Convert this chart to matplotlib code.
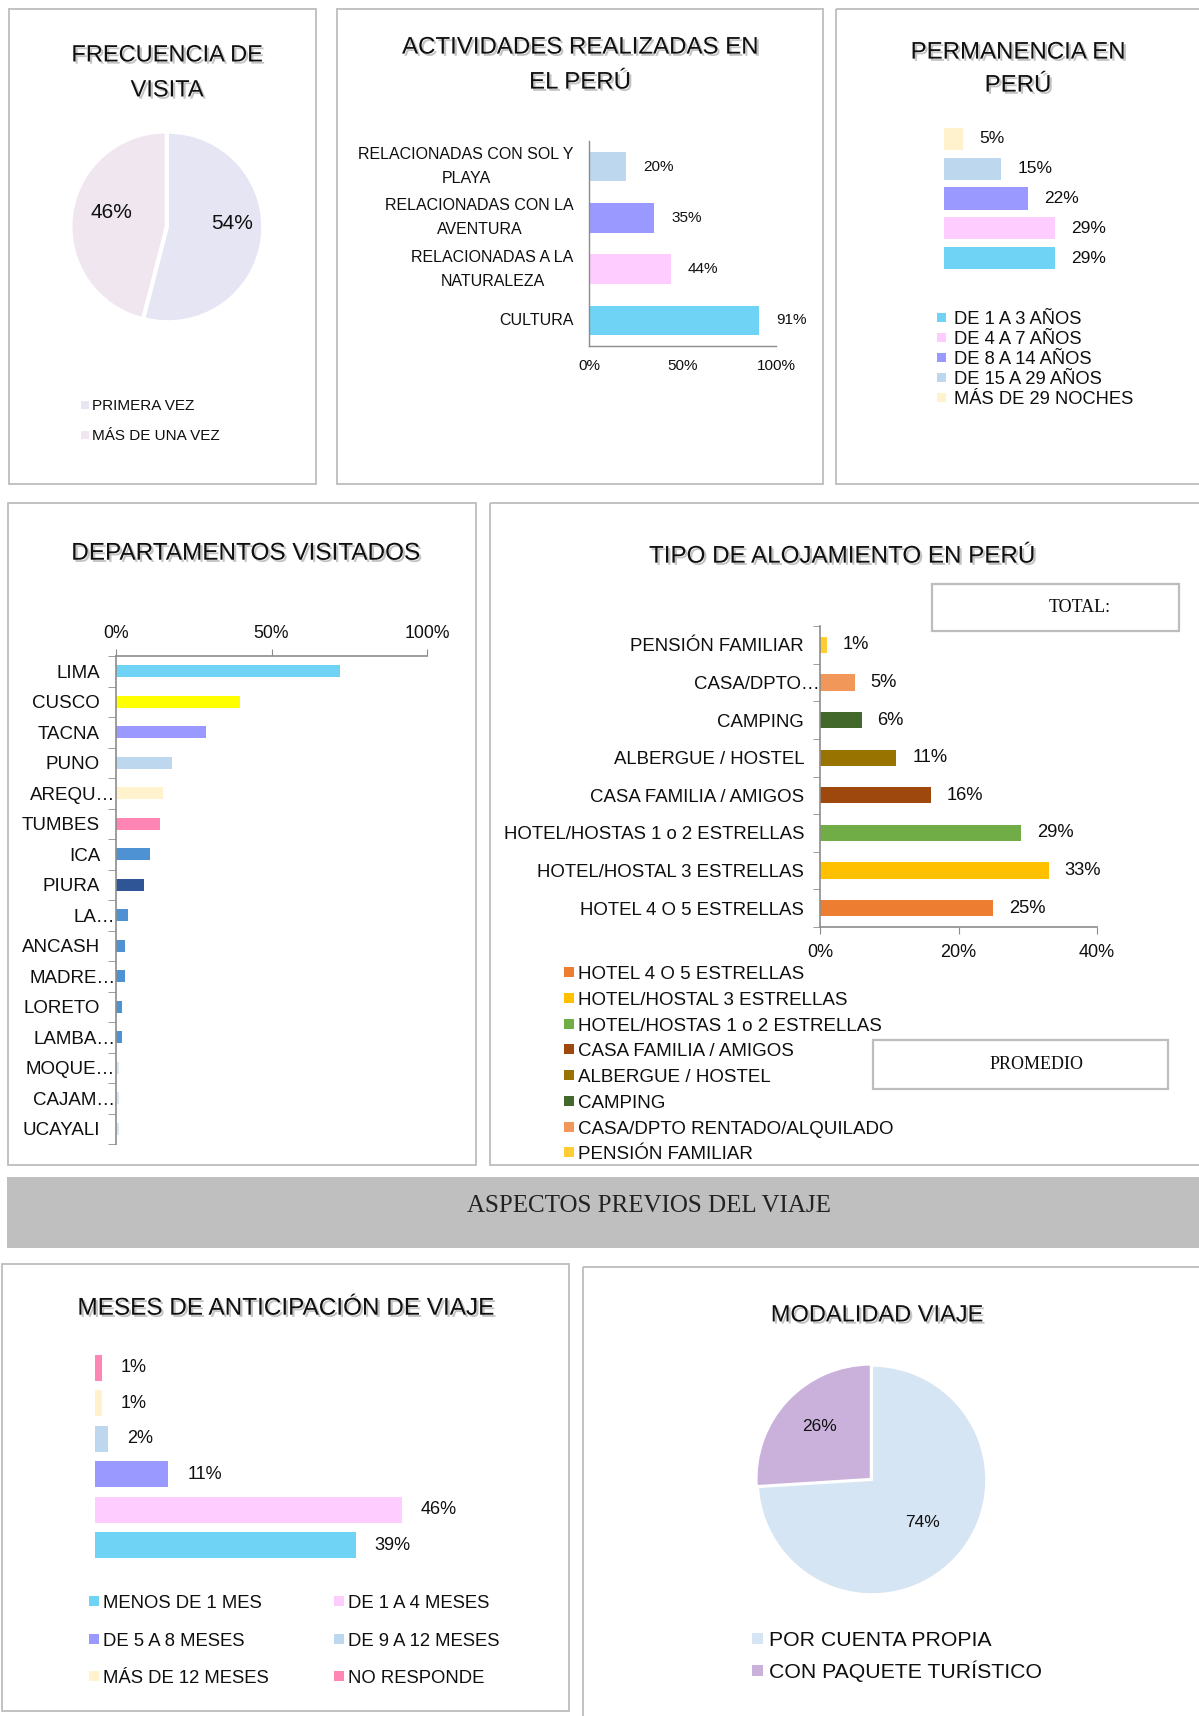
import matplotlib
matplotlib.use('Agg')
import matplotlib.pyplot as plt
import matplotlib.patheffects as pe
from matplotlib.patches import Rectangle
import numpy as np

plt.rcParams['font.family'] = ['Liberation Sans', 'DejaVu Sans']

# ---------------- data ----------------
freq_labels = ['PRIMERA VEZ', 'MÁS DE UNA VEZ']
freq_values = [54, 46]
freq_colors = ['#E5E5F4', '#EFE6EF']

act_labels = ['RELACIONADAS CON SOL Y\nPLAYA', 'RELACIONADAS CON LA\nAVENTURA',
              'RELACIONADAS A LA\nNATURALEZA', 'CULTURA']
act_values = [20, 35, 44, 91]
act_colors = ['#BDD7EE', '#9999FF', '#FFCCFF', '#6FD3F5']
act_ticks = [0, 50, 100]

perm_labels = ['DE 1 A 3 AÑOS', 'DE 4 A 7 AÑOS', 'DE 8 A 14 AÑOS',
               'DE 15 A 29 AÑOS', 'MÁS DE 29 NOCHES']
perm_values = [29, 29, 22, 15, 5]
perm_colors = ['#6FD3F5', '#FFCCFF', '#9999FF', '#BDD7EE', '#FFF2CC']

dept_labels = ['LIMA', 'CUSCO', 'TACNA', 'PUNO', 'AREQU…', 'TUMBES', 'ICA', 'PIURA',
               'LA…', 'ANCASH', 'MADRE…', 'LORETO', 'LAMBA…', 'MOQUE…', 'CAJAM…', 'UCAYALI']
dept_values = [72, 40, 29, 18, 15, 14, 11, 9, 4, 3, 3, 2, 2, 1, 1, 1]
dept_colors = ['#6FD3F5', '#FFFF00', '#9999FF', '#BDD7EE', '#FFF2CC', '#FF85B4',
               '#4F92D3', '#2F5597', '#4F92D3', '#4F92D3', '#4F92D3', '#4F92D3',
               '#4F92D3', '#DAE7F5', '#DAE7F5', '#DAE7F5']
dept_ticks = [0, 50, 100]

alo_labels = ['HOTEL 4 O 5 ESTRELLAS', 'HOTEL/HOSTAL 3 ESTRELLAS', 'HOTEL/HOSTAS 1 o 2 ESTRELLAS',
              'CASA FAMILIA / AMIGOS', 'ALBERGUE / HOSTEL', 'CAMPING',
              'CASA/DPTO RENTADO/ALQUILADO', 'PENSIÓN FAMILIAR']
alo_ticklabels = ['HOTEL 4 O 5 ESTRELLAS', 'HOTEL/HOSTAL 3 ESTRELLAS', 'HOTEL/HOSTAS 1 o 2 ESTRELLAS',
                  'CASA FAMILIA / AMIGOS', 'ALBERGUE / HOSTEL', 'CAMPING',
                  'CASA/DPTO…', 'PENSIÓN FAMILIAR']
alo_values = [25, 33, 29, 16, 11, 6, 5, 1]
alo_colors = ['#ED7D31', '#FFC000', '#70AD47', '#9E480E', '#997300', '#43682B', '#F1975A', '#FFCD33']
alo_ticks = [0, 20, 40]

mes_labels = ['MENOS DE 1 MES', 'DE 1 A 4 MESES', 'DE 5 A 8 MESES',
              'DE 9 A 12 MESES', 'MÁS DE 12 MESES', 'NO RESPONDE']
mes_values = [39, 46, 11, 2, 1, 1]
mes_colors = ['#6FD3F5', '#FFCCFF', '#9999FF', '#BDD7EE', '#FFF2CC', '#FF85B4']

mod_labels = ['POR CUENTA PROPIA', 'CON PAQUETE TURÍSTICO']
mod_values = [74, 26]
mod_colors = ['#D5E5F4', '#C9B1DB']

# ---------------- layout helpers ----------------
W, H = 1199, 1716
TXT = '#0F0F0F'
AXC = '#8C8C8C'
BORDER = '#BDBDBD'
TFS = 17.3

fig = plt.figure(figsize=(W / 100, H / 100), dpi=100)
fig.patch.set_facecolor('white')

ov = fig.add_axes([0, 0, 1, 1], zorder=-1)
ov.set_xlim(0, W)
ov.set_ylim(H, 0)
ov.axis('off')


def px(pt):
    return pt * 100 / 72


def add_ax(x0, y0, x1, y1):
    a = fig.add_axes([x0 / W, 1 - y1 / H, (x1 - x0) / W, (y1 - y0) / H])
    a.set_facecolor('none')
    return a


def ftext(x, y, s, fs, ha='center', serif=False, shadow=False, color=TXT):
    capc = 0.331 if serif else 0.358
    kw = {'family': ['Liberation Serif', 'DejaVu Serif']} if serif else {}
    t = ov.text(x, y + capc * px(fs), s, fontsize=fs, ha=ha, va='baseline', color=color, **kw)
    if shadow:
        t.set_path_effects([pe.withSimplePatchShadow(offset=(1.6, -1.6),
                                                     shadow_rgbFace='#7a7a7a', alpha=0.45)])
    return t


def box(x0, y0, x1, y1, ec=BORDER, lw=1.3, fc='none'):
    ov.add_patch(Rectangle((x0, y0), x1 - x0, y1 - y0, fill=(fc != 'none'),
                           facecolor=fc, edgecolor=ec, lw=lw))


def legend_px(xsq, xtxt, ys, labels, colors, sq, fs):
    for y, lab, c in zip(ys, labels, colors):
        ov.add_patch(Rectangle((xsq, y - sq / 2), sq, sq, facecolor=c, edgecolor='none'))
        ftext(xtxt, y, lab, fs, ha='left')


def bar_labels(ax, ys, vals, fs, off):
    for y, v in zip(ys, vals):
        ax.annotate(f'{v}%', (v, y), xytext=(off, 0), textcoords='offset points',
                    va='center', ha='left', fontsize=fs, color=TXT)


def cat_labels(ax, ys, labels, fs, pad, trunc_pad=0.6):
    """Category labels at the left of the axis; truncated ones (…) hug the axis like Excel."""
    ax.set_yticks(ys)
    ax.set_yticklabels([''] * len(ys))
    for y, lab in zip(ys, labels):
        p = trunc_pad if lab.endswith('…') else pad
        ax.annotate(lab, xy=(0, y), xycoords=('axes fraction', 'data'), xytext=(-p, 0),
                    textcoords='offset points', ha='right', va='center_baseline',
                    fontsize=fs, color=TXT, annotation_clip=False)


# ---------------- panel borders ----------------
box(9, 9, 316, 484)
box(337, 9, 823, 484)
box(836, 9, 1215, 484)
box(8, 503, 476, 1165)
box(490, 503, 1215, 1165)
box(2, 1264, 569, 1711)
box(583, 1267, 1215, 1730)

# ---------------- 1. FRECUENCIA DE VISITA ----------------
ftext(167, 53, 'FRECUENCIA DE', 17, shadow=True)
ftext(167, 88, 'VISITA', 17, shadow=True)
ax1 = add_ax(168 - 113, 227 - 113, 168 + 113, 227 + 113)
w1, t1, a1 = ax1.pie(freq_values, colors=freq_colors, startangle=90, counterclock=False,
                     explode=[0, 0.025], autopct=lambda p: f'{p:.0f}%',
                     wedgeprops=dict(edgecolor='white', linewidth=1.4),
                     textprops=dict(fontsize=15, color=TXT))
a1[0].set_position((0.68, 0.04))
a1[1].set_position((-0.60, 0.15))
ax1.set_xlim(-1.2, 1.2)
ax1.set_ylim(-1.2, 1.2)
legend_px(81, 92, [405, 435], freq_labels, freq_colors, 8, 11)

# ---------------- 2. ACTIVIDADES ----------------
ftext(580, 45, 'ACTIVIDADES REALIZADAS EN', TFS, shadow=True)
ftext(580, 80, 'EL PERÚ', TFS, shadow=True)
ax2 = add_ax(589, 141, 776, 346)
y2 = np.arange(len(act_values))[::-1]
ax2.barh(y2, act_values, height=0.58, color=act_colors)
ax2.set_xlim(0, 100)
ax2.set_ylim(-0.5, 3.5)
ax2.set_xticks(act_ticks)
ax2.set_xticklabels([f'{t}%' for t in act_ticks])
ax2.set_yticks(y2)
ax2.set_yticklabels(act_labels, multialignment='center', linespacing=1.75)
for lab in ax2.get_yticklabels():
    lab.set_va('center')
ax2.tick_params(axis='x', length=0, labelsize=11, pad=9.5, labelcolor=TXT)
ax2.tick_params(axis='y', length=0, labelsize=11.5, pad=11, labelcolor=TXT)
for s in ['top', 'right']:
    ax2.spines[s].set_visible(False)
for s in ['left', 'bottom']:
    ax2.spines[s].set_color(AXC)
    ax2.spines[s].set_linewidth(1)
bar_labels(ax2, y2, act_values, 11, 12)

# ---------------- 3. PERMANENCIA ----------------
ftext(1018, 50, 'PERMANENCIA EN', TFS, shadow=True)
ftext(1018, 83, 'PERÚ', TFS, shadow=True)
ax3 = add_ax(944, 124, 944 + 3.83 * 40, 273)
y3 = np.arange(len(perm_values))
ax3.barh(y3, perm_values, height=0.74, color=perm_colors)
ax3.set_xlim(0, 40)
ax3.set_ylim(-0.5, 4.5)
ax3.axis('off')
bar_labels(ax3, y3, perm_values, 12.5, 11.5)
legend_px(937, 954, [317, 337, 357, 377, 397], perm_labels, perm_colors, 9, 13.2)

# ---------------- 4. DEPARTAMENTOS ----------------
ftext(245, 551, 'DEPARTAMENTOS VISITADOS', 17.5, shadow=True)
ax4 = add_ax(116, 656, 427, 1144)
y4 = np.arange(len(dept_values))
ax4.barh(y4, dept_values, height=0.4, color=dept_colors)
ax4.set_xlim(0, 100)
ax4.set_ylim(len(dept_values) - 0.5, -0.5)
ax4.xaxis.tick_top()
ax4.set_xticks(dept_ticks)
ax4.set_xticklabels([f'{t}%' for t in dept_ticks])
cat_labels(ax4, y4, dept_labels, 13.5, 11.5)
ax4.set_yticks(np.arange(-0.5, len(dept_values), 1), minor=True)
ax4.tick_params(axis='x', length=5, color=AXC, labelsize=12.7, pad=5, labelcolor=TXT)
ax4.tick_params(axis='y', which='major', length=0)
ax4.tick_params(axis='y', which='minor', length=6, color=AXC)
for s in ['bottom', 'right']:
    ax4.spines[s].set_visible(False)
for s in ['left', 'top']:
    ax4.spines[s].set_color(AXC)
    ax4.spines[s].set_linewidth(1.2)

# ---------------- 5. TIPO DE ALOJAMIENTO ----------------
ftext(842, 554, 'TIPO DE ALOJAMIENTO EN PERÚ', 17.4, shadow=True)
box(932, 584, 1179, 631, lw=1.6)
ftext(1080, 606, 'TOTAL:', 13, serif=True)
box(873, 1040, 1168, 1089, lw=1.6)
ftext(1037, 1063, 'PROMEDIO', 13, serif=True)
ax5 = add_ax(820, 626, 1097, 927)
y5 = np.arange(len(alo_values))
ax5.barh(y5, alo_values, height=0.43, color=alo_colors)
ax5.set_xlim(0, 40)
ax5.set_ylim(-0.5, len(alo_values) - 0.5)
ax5.set_xticks(alo_ticks)
ax5.set_xticklabels([f'{t}%' for t in alo_ticks])
cat_labels(ax5, y5, alo_ticklabels, 13.4, 11.5)
ax5.set_yticks(np.arange(-0.5, len(alo_values), 1), minor=True)
ax5.tick_params(axis='x', length=5, color=AXC, labelsize=13, pad=7, labelcolor=TXT)
ax5.tick_params(axis='y', which='major', length=0)
ax5.tick_params(axis='y', which='minor', length=5, color=AXC)
for s in ['top', 'right']:
    ax5.spines[s].set_visible(False)
for s in ['left', 'bottom']:
    ax5.spines[s].set_color(AXC)
    ax5.spines[s].set_linewidth(1.2)
bar_labels(ax5, y5, alo_values, 13.2, 11.5)
legend_px(564, 578, [972, 998, 1024, 1049, 1075, 1101, 1127, 1152],
          alo_labels, alo_colors, 10, 13.5)

# ---------------- banner ----------------
ov.add_patch(Rectangle((7, 1177), W, 71, facecolor='#BFBFBF', edgecolor='none'))
ftext(649, 1204, 'ASPECTOS PREVIOS DEL VIAJE', 18, serif=True, color='#222222')

# ---------------- 6. MESES DE ANTICIPACIÓN ----------------
ftext(285, 1306, 'MESES DE ANTICIPACIÓN DE VIAJE', 17.5, shadow=True)
ax6 = add_ax(95, 1350, 95 + 6.68 * 50, 1563)
y6 = np.arange(len(mes_values))
ax6.barh(y6, mes_values, height=0.73, color=mes_colors)
ax6.set_xlim(0, 50)
ax6.set_ylim(-0.5, len(mes_values) - 0.5)
ax6.axis('off')
bar_labels(ax6, y6, mes_values, 13, 13.5)
legend_px(89, 103, [1601, 1639, 1676], mes_labels[0::2], mes_colors[0::2], 10, 13.3)
legend_px(334, 348, [1601, 1639, 1676], mes_labels[1::2], mes_colors[1::2], 10, 13.3)

# ---------------- 7. MODALIDAD VIAJE ----------------
ftext(877, 1313, 'MODALIDAD VIAJE', 17, shadow=True)
ax7 = add_ax(872 - 137, 1480 - 137, 872 + 137, 1480 + 137)
w7, t7, a7 = ax7.pie(mod_values, colors=mod_colors, startangle=90, counterclock=False,
                     explode=[0, 0.015], autopct=lambda p: f'{p:.0f}%',
                     wedgeprops=dict(edgecolor='white', linewidth=1.4),
                     textprops=dict(fontsize=12.5, color=TXT))
a7[0].set_position((0.44, -0.37))
a7[1].set_position((-0.46, 0.47))
ax7.set_xlim(-1.2, 1.2)
ax7.set_ylim(-1.2, 1.2)
legend_px(752, 769, [1638, 1670], mod_labels, mod_colors, 11, 15.3)

fig.savefig('out.png', dpi=100, facecolor='white')
